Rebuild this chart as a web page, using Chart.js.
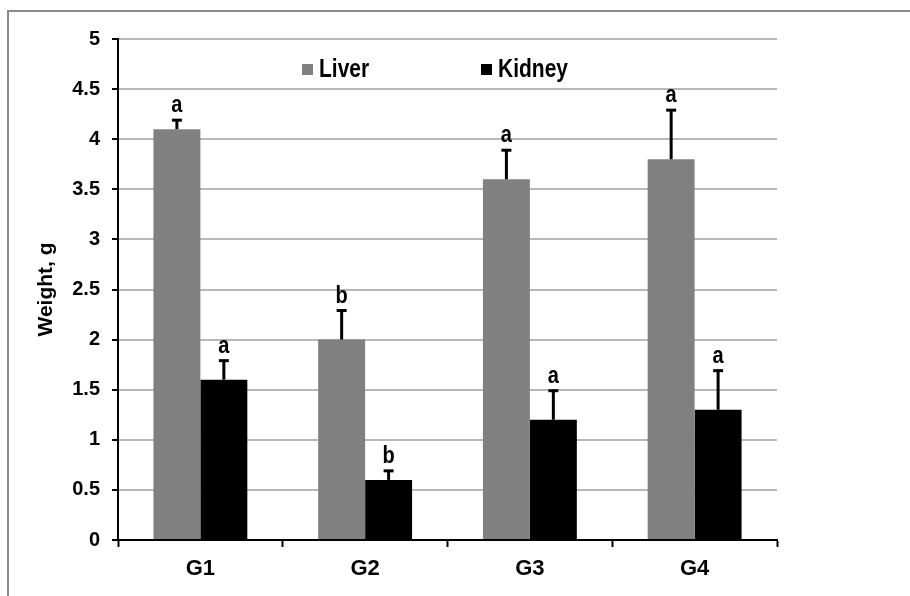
<!DOCTYPE html>
<html>
<head>
<meta charset="utf-8">
<script src="https://cdn.jsdelivr.net/npm/chart.js@4.4.0/dist/chart.umd.min.js"></script>
<style>
  html, body { margin: 0; padding: 0; background: #fff; }
  #wrap { width: 910px; height: 596px; position: relative; }
</style>
</head>
<body>
<div id="wrap"><canvas id="chart" width="910" height="596"></canvas></div>
<script>
// Data
var groups = ['G1', 'G2', 'G3', 'G4'];
var liver = [4.1, 2.0, 3.6, 3.8];
var liverErr = [0.1, 0.3, 0.3, 0.5];
var liverLetters = ['a', 'b', 'a', 'a'];
var kidney = [1.6, 0.6, 1.2, 1.3];
var kidneyErr = [0.2, 0.1, 0.3, 0.4];
var kidneyLetters = ['a', 'b', 'a', 'a'];
var yMin = 0, yMax = 5, yStep = 0.5;

var SANS = '"Liberation Sans", Arial, sans-serif';

// text a bit taller than wide, like the reference's squeezed font
function tallText(ctx, txt, x, y, size, stretch, align) {
  ctx.save();
  ctx.font = 'bold ' + size + 'px ' + SANS;
  ctx.textAlign = align;
  ctx.textBaseline = 'alphabetic';
  ctx.translate(x, y);
  ctx.scale(1, stretch);
  ctx.fillText(txt, 0, 0);
  ctx.restore();
}

// frame, error bars, significance letters and legend
var extras = {
  id: 'extras',
  afterDatasetsDraw: function(chart) {
    var ctx = chart.ctx;
    var y = chart.scales.y;
    ctx.save();
    chart.data.datasets.forEach(function(ds, i) {
      var meta = chart.getDatasetMeta(i);
      meta.data.forEach(function(bar, j) {
        var top = y.getPixelForValue(ds.data[j] + ds._err[j]);
        ctx.strokeStyle = '#000';
        ctx.lineWidth = 3;
        ctx.beginPath();
        ctx.moveTo(bar.x, bar.y);
        ctx.lineTo(bar.x, top);
        ctx.stroke();
        ctx.beginPath();
        ctx.moveTo(bar.x - 5, top + 1);
        ctx.lineTo(bar.x + 5, top + 1);
        ctx.stroke();
        ctx.fillStyle = '#000';
        tallText(ctx, ds._letters[j], bar.x, top - 7, 20, 1.18, 'center');
      });
    });
    ctx.restore();
  },
  afterDraw: function(chart) {
    var ctx = chart.ctx;
    ctx.save();
    // outer frame (only top and left edges visible)
    ctx.fillStyle = '#8a8a8a';
    ctx.fillRect(7, 10, 903, 2);
    ctx.fillRect(7, 10, 2, 586);
    // legend
    var items = [{ x: 302 }, { x: 481 }];
    chart.data.datasets.forEach(function(ds, i) {
      var it = items[i];
      ctx.fillStyle = ds.backgroundColor;
      ctx.fillRect(it.x, 64, 11, 11);
      ctx.fillStyle = '#000';
      tallText(ctx, ds.label, it.x + 17, 77, 21, 1.22, 'left');
    });
    ctx.restore();
  }
};

new Chart(document.getElementById('chart'), {
  type: 'bar',
  data: {
    labels: groups,
    datasets: [
      { label: 'Liver', data: liver, _err: liverErr, _letters: liverLetters,
        backgroundColor: '#808080', borderWidth: 0,
        categoryPercentage: 0.57, barPercentage: 1.0 },
      { label: 'Kidney', data: kidney, _err: kidneyErr, _letters: kidneyLetters,
        backgroundColor: '#000000', borderWidth: 0,
        categoryPercentage: 0.57, barPercentage: 1.0 }
    ]
  },
  options: {
    responsive: false,
    animation: false,
    layout: { padding: { left: 0, top: 39, right: 133, bottom: 0 } },
    plugins: { legend: { display: false }, tooltip: { enabled: false } },
    scales: {
      x: {
        grid: { display: true, drawOnChartArea: false, offset: true,
                tickColor: '#000', tickLength: 7, tickWidth: 2 },
        border: { color: '#000', width: 2 },
        ticks: { color: '#000', padding: 9, font: { family: SANS, size: 22, weight: 'bold' } },
        afterFit: function(s) { s.height = 56; }
      },
      y: {
        min: yMin, max: yMax,
        grid: { color: '#b8b8b8', lineWidth: 2, tickColor: '#000', tickLength: 6, tickWidth: 2 },
        border: { color: '#000', width: 2 },
        ticks: { stepSize: yStep, color: '#000', padding: 12,
                 font: { family: SANS, size: 20, weight: 'bold' },
                 callback: function(v) { return String(v); } },
        title: { display: true, text: 'Weight, g', color: '#000',
                 padding: { top: 34, bottom: 0 },
                 font: { family: SANS, size: 21, weight: 'bold' } },
        afterFit: function(s) { s.width = 118; }
      }
    }
  },
  plugins: [extras]
});
</script>
</body>
</html>
